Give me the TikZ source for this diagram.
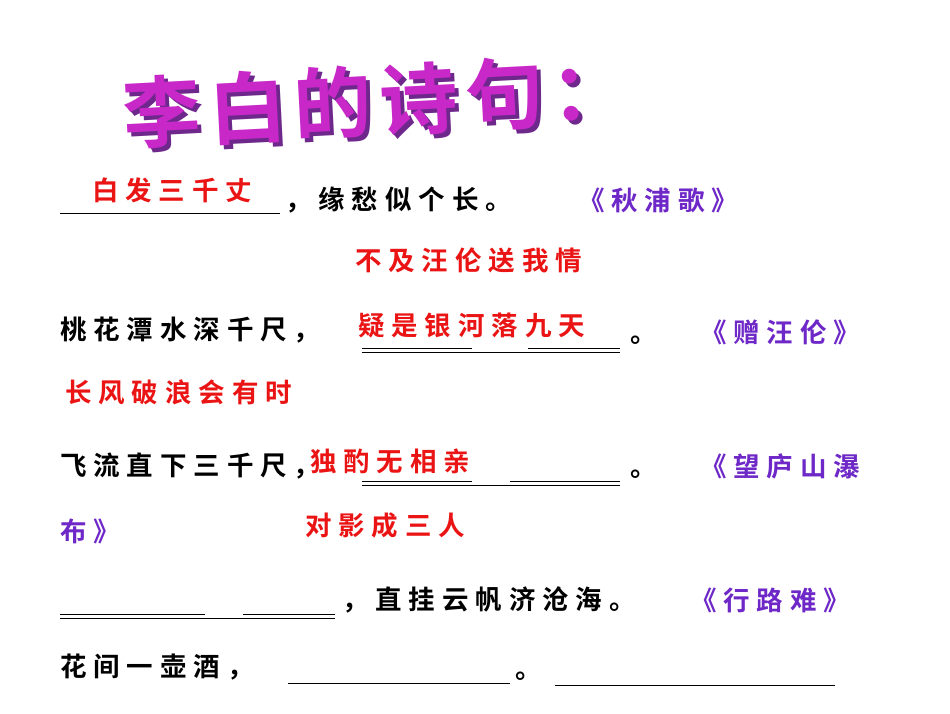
\documentclass[tikz,border=0pt]{standalone}
\usepackage{fontspec}
\newfontfamily\cjk{Noto Sans CJK SC}[BoldFont={Noto Sans CJK SC Bold},LetterSpace=26]
\newfontfamily\cjkt{Noto Sans CJK SC}[BoldFont={Noto Sans CJK SC Bold},LetterSpace=10]
\definecolor{ttl}{RGB}{200,40,200}
\definecolor{ttlsh}{RGB}{110,40,140}
\definecolor{pur}{RGB}{110,40,200}
\definecolor{rd}{RGB}{235,20,20}
\begin{document}
\begin{tikzpicture}[x=1pt,y=-1pt,
  txt/.style={font=\cjk\bfseries\fontsize{26.5}{28}\selectfont,anchor=west,inner sep=0pt},
  ans/.style={txt,text=rd},
  src/.style={txt,text=pur},
  blank/.style={line width=1pt},
  blank2/.style={line width=0.6pt}]
\useasboundingbox[fill=white] (0,0) rectangle (950,713);
% title
\node[font=\cjkt\bfseries\fontsize{78}{80}\selectfont,text=ttlsh,rotate=3,inner sep=0pt] (tsh) at (380,105) {李白的诗句：};
\node[font=\cjkt\bfseries\fontsize{78}{80}\selectfont,text=ttl,rotate=3,inner sep=0pt] (title) at (376,101) {李白的诗句：};
% line 1
\draw[blank] (60,213) coordinate (b1a) -- (280,213) coordinate (b1b);
\node[ans] (a1) at (92,190) {白发三千丈};
\node[txt] (l1) at (285,200) {，缘愁似个长。};
\node[src] (s1) at (578,200) {《秋浦歌》};
% line 2
\node[ans] (a2) at (355,260) {不及汪伦送我情};
\node[txt] (l2) at (60,330) {桃花潭水深千尺，};
\node[ans] (a3) at (358,325) {疑是银河落九天};
\draw[blank2] (362,348) -- (472,348) (528,348) -- (620,348);
\draw[blank] (362,352) -- (620,352);
\node[txt] (p2) at (630,340) {。};
\node[src] (s2) at (700,332) {《赠汪伦》};
% line 3
\node[ans] (a4) at (65,392) {长风破浪会有时};
\node[txt] (l3) at (60,466) {飞流直下三千尺，};
\node[ans] (a5) at (310,461) {独酌无相亲};
\draw[blank2] (362,481) -- (472,481) (510,481) -- (620,481);
\draw[blank] (362,485) -- (620,485);
\node[txt] (p3) at (630,474) {。};
\node[src] (s3) at (700,466) {《望庐山瀑};
\node[src] (s3b) at (60,531) {布》};
\node[ans] (a6) at (305,525) {对影成三人};
% line 4
\draw[blank2] (60,614) -- (205,614) (243,614) -- (335,614);
\draw[blank] (60,618) -- (335,618);
\node[txt] (l4) at (342,600) {，直挂云帆济沧海。};
\node[src] (s4) at (690,600) {《行路难》};
% line 5
\node[txt] (l5) at (60,667) {花间一壶酒，};
\draw[blank] (288,683) -- (510,683);
\node[txt] (p5) at (515,676) {。};
\draw[blank] (555,685) -- (835,685);
\end{tikzpicture}
\end{document}
